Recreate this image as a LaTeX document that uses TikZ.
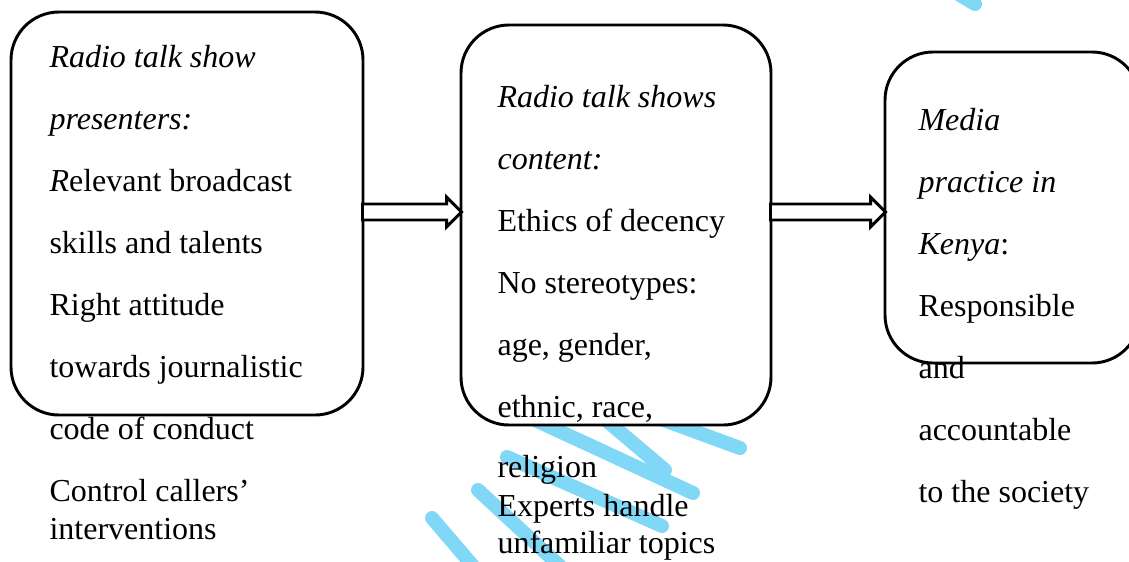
\documentclass[tikz,border=0pt]{standalone}
\usepackage{fontspec}
\setmainfont{Liberation Serif}
\usetikzlibrary{calc,fit}
\definecolor{wmark}{RGB}{128,216,246}
\tikzset{
  box/.style={draw, line width=1.1pt, rounded corners=18pt, fill=white, inner sep=0pt},
  txt/.style={anchor=base west, inner sep=0pt, font=\fontsize{12}{14}\selectfont},
  blockarrow/.style={draw, line width=1.1pt, fill=white, line join=miter},
  wm/.style={wmark, line width=5.25pt, line cap=round}
}

\begin{document}
\begin{tikzpicture}[x=0.375pt,y=-0.375pt]
\useasboundingbox (0,0) rectangle (1129,561);
% watermark behind everything
\draw[wm] (432,518) -- (485,580);
\draw[wm] (478,490) -- (575,580);
\draw[wm] (507,457) -- (662,526);
\draw[wm] (520,413) -- (693,493);
\draw[wm] (600,415) -- (665,470);
\draw[wm] (650,415) -- (740,448);
\draw[wm] (955,-8) -- (975,4);
% boxes
\node[box, fit={(11,12) (363,415)}] (presenters) {};
\node[box, fit={(461,25) (771,425)}] (content) {};
\node[box, fit={(885,52) (1140,363)}] (practice) {};
% texts
\foreach \t/\y [count=\i] in {{\textit{Radio talk show}}/67, {\textit{presenters:}}/129,
    {\textit{R}elevant broadcast}/191, {skills and talents}/253, {Right attitude}/315,
    {towards journalistic}/377, {code of conduct}/439, {Control callers’}/501,
    {interventions}/539}
  \node[txt] (pres\i) at (49,\y) {\t};
\foreach \t/\y [count=\i] in {{\textit{Radio talk shows}}/107, {\textit{content:}}/169,
    {Ethics of decency}/231, {No stereotypes:}/293, {age, gender,}/355,
    {ethnic, race,}/417, {religion}/477, {Experts handle}/516, {unfamiliar topics}/553}
  \node[txt] (cont\i) at (497,\y) {\t};
\foreach \t/\y [count=\i] in {{\textit{Media}}/130, {\textit{practice in}}/192,
    {\textit{Kenya}:}/254, {Responsible}/316, {and}/378, {accountable}/440,
    {to the society}/502}
  \node[txt] (prac\i) at (918,\y) {\t};
% arrows
\coordinate (ay) at (0,212);
\foreach \a/\b in {presenters/content, content/practice}
  \draw[blockarrow] ($(\a.east |- ay)+(-2,-8)$) -- ($(\b.west |- ay)+(-13,-8)$)
    -- ($(\b.west |- ay)+(-13,-15)$) -- ($(\b.west |- ay)+(2,0)$)
    -- ($(\b.west |- ay)+(-13,15)$) -- ($(\b.west |- ay)+(-13,8)$)
    -- ($(\a.east |- ay)+(-2,8)$) -- cycle;
\end{tikzpicture}
\end{document}
